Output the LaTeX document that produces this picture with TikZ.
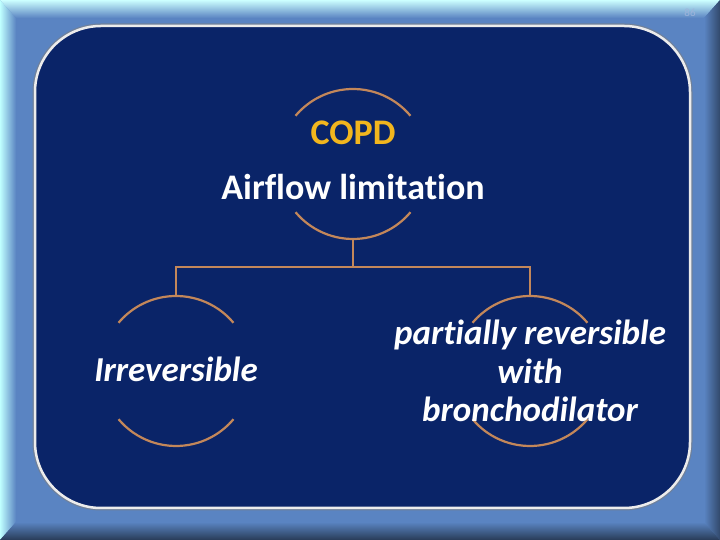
\documentclass[tikz,border=0pt]{standalone}
\usepackage{fontspec}
\setmainfont{Carlito}[Ligatures=NoCommon]
\usetikzlibrary{positioning}
\definecolor{framblue}{HTML}{5A84C2}
\definecolor{panelblue}{HTML}{0A2468}
\definecolor{copdgold}{HTML}{F2B61E}
\definecolor{arcbrown}{HTML}{C3875A}
\definecolor{pagegrey}{HTML}{9DB4DA}
\tikzset{
  ring/.style={circle, minimum size=150, inner sep=0pt, outer sep=0pt},
  ringarc/.style={draw=arcbrown, line width=2.2pt},
  headtext/.style={font=\fontsize{36}{42}\selectfont\bfseries, text=white, anchor=base},
  subtext/.style={font=\fontsize{35}{38.5}\selectfont\bfseries\itshape, text=white, align=center}
}
\begin{document}
\begin{tikzpicture}[x=1pt,y=1pt]
      \useasboundingbox (0,0) rectangle (720,540);
      \fill[framblue] (0,0) rectangle (720,540);
      \shade[top color=cyan!20!white, bottom color=framblue] (0,540) -- (720,540) -- (704,522) -- (16,522) -- cycle;
      \shade[left color=cyan!25!white, right color=framblue] (0,540) -- (16,522) -- (16,18) -- (0,0) -- cycle;
      \shade[left color=framblue, right color=framblue!55!black] (720,540) -- (704,522) -- (704,18) -- (720,0) -- cycle;
      \shade[top color=framblue, bottom color=framblue!45!black] (0,0) -- (16,18) -- (704,18) -- (720,0) -- cycle;
      \node[text=pagegrey, font=\fontsize{11}{13}\selectfont] (pagenum) at (690,527) {86};
      \draw[line width=5pt, gray!60!framblue, rounded corners=66] (35,32) rectangle (690,514);
      \draw[fill=panelblue, draw=white!85!gray, line width=2.5pt, rounded corners=66] (35,32) rectangle (690,514);
      \node[ring] (copd) at (353,376) {};
      \node[ring] (irr) at (176,169) {};
      \node[ring] (part) at (530,169) {};
      \foreach \n in {copd,irr,part} {
        \draw[ringarc] (\n.40) arc[start angle=40, end angle=140, radius=75];
        \draw[ringarc] (\n.220) arc[start angle=220, end angle=320, radius=75];
      }
      \draw[ringarc] (copd.south) -- ++(0,-28) coordinate (fork);
      \draw[ringarc] (fork) -| (irr.north);
      \draw[ringarc] (fork) -| (part.north);
      \node[headtext, text=copdgold] (copdname) at (353,395) {COPD};
      \node[headtext] (airflow) at (353,340) {Airflow limitation};
      \node[subtext, anchor=base] (irrtext) at (176,158) {Irreversible};
      \node[subtext, anchor=center] (parttext) at (530,169) {partially reversible\\with\\bronchodilator};
\end{tikzpicture}
\end{document}
